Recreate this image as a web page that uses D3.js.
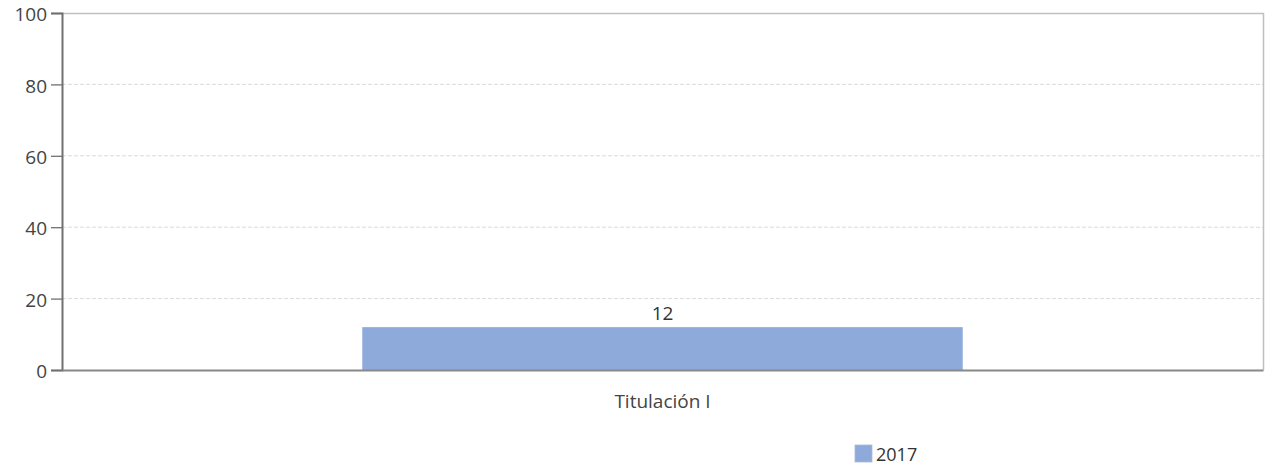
<!DOCTYPE html>
<html><head><meta charset="utf-8">
<script src="https://cdn.jsdelivr.net/npm/d3@7"></script>
<style>
body{margin:0;background:#fff;}
text{font-family:"Open Sans","Noto Sans",sans-serif;}
</style></head>
<body><svg id="c" width="1269" height="467"></svg>
<script>
const categories = ["Titulación I"];
const seriesName = "2017";
const values = [12];
const yTicks = [0, 20, 40, 60, 80, 100];

const svg = d3.select("#c");
const m = {l: 62, r: 6, t: 13, b: 97};
const W = 1269, H = 467;
const FS = 19;
const x = d3.scaleBand().domain(categories).range([m.l, W - m.r]).paddingInner(1/3).paddingOuter(1/3);
const y = d3.scaleLinear().domain([0, 100]).range([H - m.b, m.t]);

// grid
svg.append("g").selectAll("line").data(yTicks.filter(d => d > 0 && d < 100)).join("line")
  .attr("x1", m.l).attr("x2", W - m.r).attr("y1", d => y(d)).attr("y2", d => y(d))
  .attr("stroke", "#dadada").attr("stroke-dasharray", "4,2").attr("stroke-width", 1);

// frame top/right
svg.append("path").attr("d", `M${m.l},${y(100)+0.5}H${W - m.r + 0.5}V${y(0)}`)
  .attr("fill", "none").attr("stroke", "#c0c0c0").attr("stroke-width", 1.5);

// bars
svg.append("g").selectAll("rect").data(values).join("rect")
  .attr("x", (d, i) => x(categories[i])).attr("width", x.bandwidth())
  .attr("y", d => y(d)).attr("height", d => y(0) - y(d))
  .attr("fill", "#8eaadb");

svg.append("g").selectAll("text").data(values).join("text")
  .attr("x", (d, i) => x(categories[i]) + x.bandwidth() / 2)
  .attr("y", d => y(d) - 7).attr("text-anchor", "middle")
  .attr("font-size", FS).attr("fill", "#333").text(d => d);

// y axis
const ya = svg.append("g").attr("transform", `translate(${m.l},0)`)
  .call(d3.axisLeft(y).tickValues(yTicks).tickSize(11).tickPadding(4));
ya.select(".domain").attr("stroke", "#707070").attr("stroke-width", 2);
ya.selectAll(".tick line").attr("stroke", "#707070").attr("stroke-width", 1.3);
ya.selectAll("text").attr("font-size", FS).attr("fill", "#444").attr("dy", "0.4em")
  .attr("font-family", "'Open Sans','Noto Sans',sans-serif");

// x axis
const xa = svg.append("g").attr("transform", `translate(0,${y(0)})`)
  .call(d3.axisBottom(x).tickSize(0).tickPadding(25));
xa.select(".domain").attr("stroke", "#888").attr("stroke-width", 2);
xa.selectAll("text").attr("font-size", FS).attr("fill", "#444")
  .attr("font-family", "'Open Sans','Noto Sans',sans-serif");

// legend
const lg = svg.append("g").attr("transform", "translate(855,445)");
lg.append("rect").attr("width", 17).attr("height", 17).attr("fill", "#8eaadb").attr("stroke", "#aab8d8").attr("stroke-width", 0.8);
lg.append("text").attr("x", 21).attr("y", 16).attr("font-size", 18).attr("fill", "#333").text(seriesName);
</script></body></html>
